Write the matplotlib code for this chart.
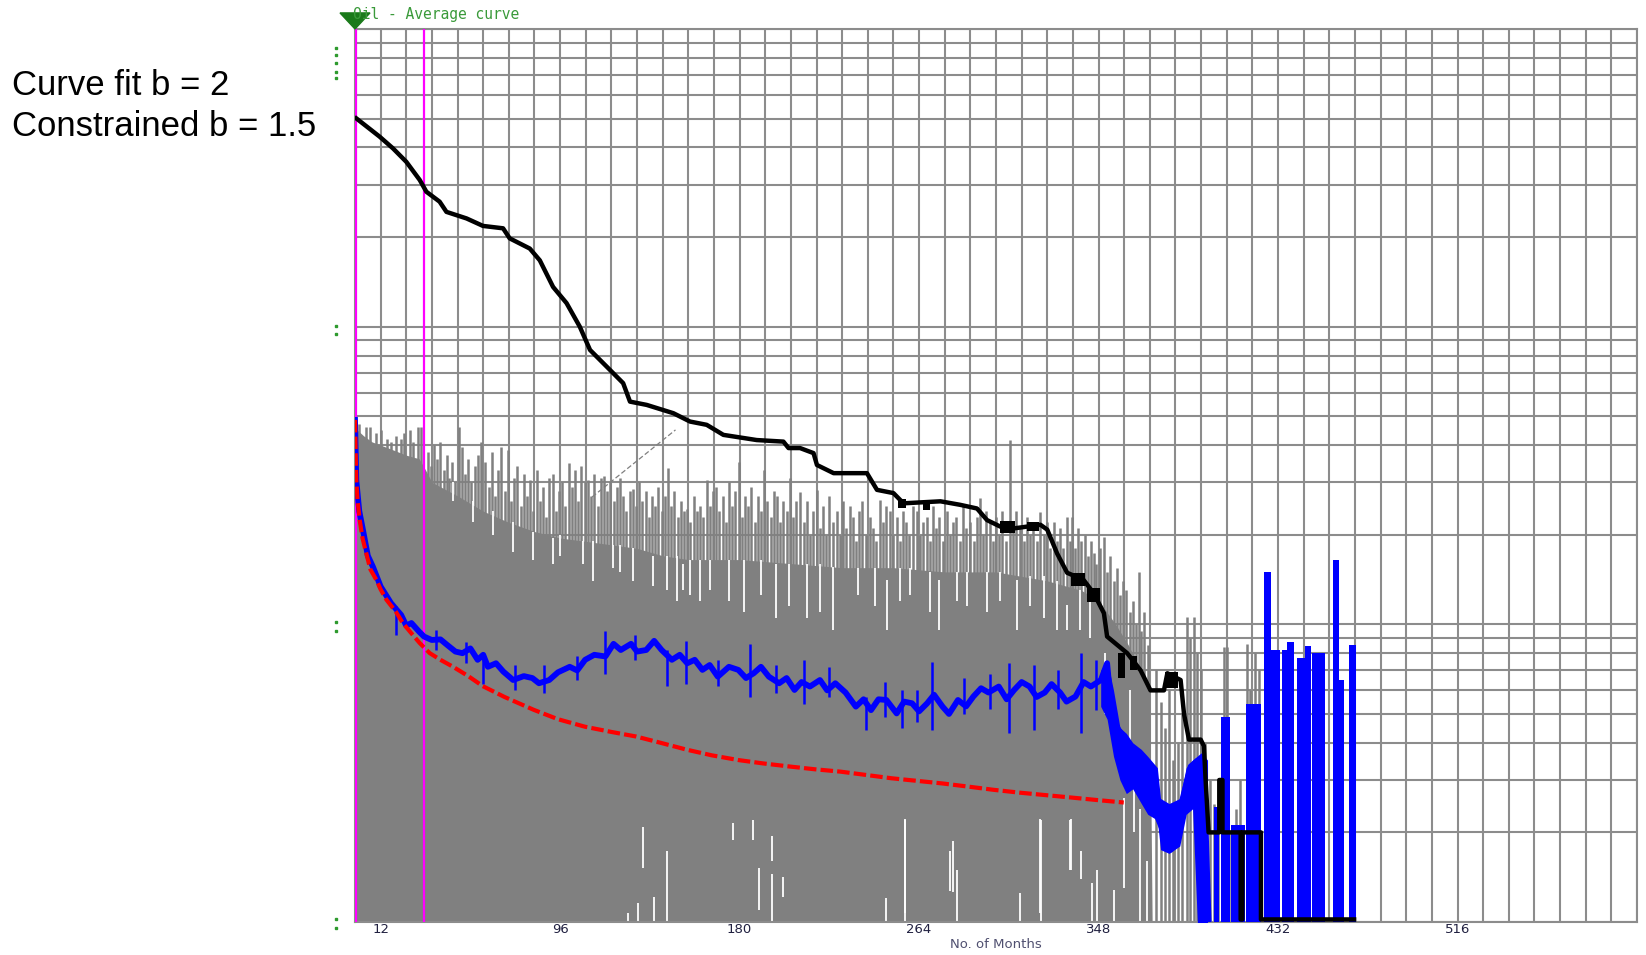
import matplotlib
matplotlib.use("Agg")
import matplotlib.pyplot as plt
import matplotlib.ticker as ticker
from matplotlib.patches import Polygon
from matplotlib.transforms import blended_transform_factory

# ---------------- data (x = months, y = rate, log) ----------------
# average curve (black)
black_months = [0.6, 11.5, 17.8, 24, 30.3, 33.4, 39.6, 42.8, 52.2, 59.9, 69.3, 72.4, 81.8, 86.5,
                92.7, 99, 105.2, 110, 117.8, 125.5, 128.7, 136.5, 149, 156.8, 164.6, 172.4, 188,
                200.5, 202.9, 208.3, 214.6, 216.2, 224, 239.6, 244.3, 252, 256.7, 274, 283.3,
                291.1, 295.8, 302, 308.3, 320.8, 324, 328.6, 333.3, 341, 345.8, 350.5, 352,
                361.4, 367.7, 372.3, 378.6, 380.2, 386.4, 388, 390.3, 395.8, 397.3, 398.1, 399.5,
                404.5, 404.5, 406, 406, 414.5, 414.5, 415.3, 415.3, 424, 424, 467.6]
black_vals = [501, 435, 397, 358, 311, 284, 263, 243, 231, 218, 214, 198, 183, 167,
              136, 120, 100, 83.5, 73.4, 64.6, 56.0, 54.6, 51.2, 48.0, 46.8, 43.3, 41.6,
              41.1, 39.1, 39.1, 37.6, 34.3, 32.2, 32.2, 28.3, 27.6, 25.5, 25.9, 25.2,
              24.5, 22.4, 21.3, 21.0, 21.6, 20.8, 17.3, 14.9, 14.1, 12.7, 10.9, 9.1,
              8.0, 7.0, 6.0, 6.0, 6.85, 6.5, 5.0, 4.1, 4.1, 3.9, 3.0, 2.0,
              2.0, 3.0, 3.0, 2.0, 2.0, 1.02, 1.02, 2.0, 2.0, 1.02, 1.02]

# noisy blocks on the average curve: left, right, low, high
blk_left = [254, 266, 302, 314.5, 335, 342.6, 357, 362.5, 379]
blk_right = [258, 269, 309, 320, 341.5, 348.5, 360.5, 366, 385]
blk_low = [24.6, 24.2, 20.2, 20.6, 13.4, 11.9, 6.6, 7.0, 6.1]
blk_high = [26.3, 25.9, 22.2, 22.0, 14.9, 13.2, 8.0, 7.8, 6.9]

# actual average rate (blue)
blue_months = [0, 0.6, 2, 3.7, 6, 8.4, 12, 16.8, 19, 21.6, 24, 26.4, 30, 32.3, 35.9, 40, 43.1,
               47, 50.3, 54, 57.4, 60, 62.2, 66, 69.4, 74, 79, 83, 86.1, 90.9, 95, 100.5,
               104, 107.7, 112, 117.2, 121, 124.4, 129.2, 132, 136.3, 140, 143.5, 148.3,
               152, 155.5, 159, 162.6, 166, 169.8, 175, 179.4, 183, 186.6, 190, 193.7, 198.5,
               202, 205.7, 209, 212.9, 217.6, 221, 224.8, 229.6, 234.4, 238, 241.5, 245,
               248.7, 253.5, 257, 260.7, 264, 267.8, 271, 275, 278, 282.2, 286, 289.4, 293,
               296.5, 301.3, 305, 308.5, 312, 315.7, 319, 322.8, 326, 330, 333, 337.2, 341,
               344.4, 349.1, 352, 354, 356, 358.3, 361, 363, 366.1, 369.3, 372.4, 375.5,
               378.6, 381.8, 384.9, 388, 391.1, 394.3, 395.8, 398.2, 399.7]
blue_vals = [48.6, 30.5, 24, 20.8, 17, 15.6, 13.4, 11.8, 11.3, 10.75, 9.9, 10.1, 9.45, 9.1, 8.86,
             8.9, 8.53, 8.1, 8.0, 8.3, 7.6, 7.9, 7.2, 7.4, 6.94, 6.5, 6.7, 6.6, 6.34, 6.5, 6.9, 7.2,
             7.0, 7.6, 7.9, 7.8, 8.6, 8.2, 8.6, 8.1, 8.2, 8.8, 8.2, 7.6,
             7.9, 7.4, 7.6, 7.03, 7.3, 6.67, 7.2, 7.03, 6.6, 6.85, 7.2, 6.67, 6.34,
             6.6, 6.02, 6.4, 6.18, 6.5, 6.0, 6.34, 5.9, 5.29, 5.6, 5.15, 5.6,
             5.57, 5.02, 5.5, 5.43, 5.1, 5.43, 5.8, 5.29, 5.0, 5.57, 5.3, 5.72, 6.1,
             5.9, 6.18, 5.6, 6.02, 6.4, 6.18, 5.7, 5.9, 6.3, 5.9, 5.5, 5.72, 6.4,
             6.18, 6.5, 7.4, 5.2, 4.6, 4.3, 3.9, 3.16, 3.69, 2.57, 3.33, 2.26,
             1.99, 1.75, 2.2, 2.71, 3.33, 3.48, 2.92, 1.99, 0.9]

# spread of the blue line where it breaks down (months, low, high)
band_months = [349, 352, 355, 358, 361, 364, 368, 371, 375.5, 377, 381, 386, 389, 392, 396, 399]
band_low = [5.3, 4.8, 3.6, 3.0, 2.7, 2.8, 2.5, 2.3, 2.2, 1.75, 1.7, 1.8, 2.3, 2.4, 0.5, 0.5]
band_high = [7.0, 7.6, 6.0, 4.5, 4.3, 4.0, 3.8, 3.6, 3.3, 2.6, 2.5, 2.6, 3.3, 3.5, 3.7, 3.5]

# short jumps of the blue line (months, low, high)
bjump_months = [19, 38, 52, 59.8, 75, 88.5, 104, 117, 131, 145.9, 155, 170, 185, 197, 210, 222,
                239, 248, 256, 263, 270, 285, 297, 306, 318, 329, 340, 347]
bjump_low = [9.2, 8.2, 7.4, 6.3, 6.0, 5.9, 6.5, 6.8, 7.6, 6.2, 6.3, 6.2, 5.7, 5.9, 5.4, 5.7,
             4.4, 4.9, 4.5, 4.7, 4.4, 5.0, 5.2, 4.3, 4.4, 5.2, 4.3, 5.15]
bjump_high = [11.5, 9.6, 8.7, 7.8, 7.3, 7.3, 7.8, 9.5, 9.2, 8.2, 8.8, 7.6, 8.6, 7.3, 7.6, 7.2,
              5.7, 6.4, 6.0, 6.0, 7.5, 6.6, 6.8, 7.4, 7.3, 7.0, 8.0, 7.6]

# blue tail, drawn as filled monthly columns: left, right, top
tail_left = [402, 405.1, 409.8, 416.9, 425.4, 428.6, 434.0, 436.4, 441.0,
             444.5, 448.1, 457.5, 460.6, 465.3]
tail_right = [404.4, 409.4, 416.5, 424.0, 428.6, 433.0, 436.0, 439.5, 444.5,
              447.6, 453.9, 460.6, 463.0, 468.4]
tail_top = [2.44, 4.9, 2.12, 5.4, 15.0, 8.2, 8.2, 8.75, 7.7,
            8.45, 8.0, 16.5, 6.5, 8.55]

# constrained hyperbolic fit (red)
red_months = [0, 0.3, 0.6, 1.2, 2.2, 3.5, 5.3, 7.2, 10, 12, 14.7, 19.2, 22.4, 26, 30.3, 35,
              40, 45.9, 53, 59.8, 70, 83.7, 95, 107.6, 120, 131.5, 143, 155.4, 167, 179.4,
              191, 203.3, 215, 227.2, 239, 251.1, 263, 275, 287, 298.9, 311, 322.8, 335,
              347, 359.8]
red_vals = [48.6, 38, 30.5, 26, 22.4, 19.5, 17.3, 15.3, 14.1, 13.1, 12.1, 11.0, 10.1, 9.4, 8.65,
            8.0, 7.6, 7.2, 6.7, 6.2, 5.7, 5.16, 4.8, 4.53, 4.35, 4.2, 4.0, 3.79, 3.63, 3.5,
            3.41, 3.33, 3.26, 3.2, 3.12, 3.04, 2.98, 2.92, 2.85, 2.78, 2.72, 2.67, 2.62,
            2.57, 2.52]

# cloud of individual wells (gray): solid part, spikes above it, white gaps in it
gray_months = [0, 1, 4, 8, 12, 18, 24, 30, 33, 36, 48, 60, 72, 84, 96, 108, 120, 132, 144,
               156, 168, 180, 204, 228, 252, 276, 300, 324, 340, 348, 356, 362, 368, 372, 373.5]
gray_top = [48.6, 45, 43, 41, 40, 38.5, 37, 36, 33, 30, 27, 24, 22, 20.5, 19.5, 19, 18.5, 18,
            17, 16.5, 16.5, 16.5, 16, 15.5, 15.5, 15, 15, 14, 13, 12, 10, 8.5, 7, 6, 0.5]

spike_months = [2, 5, 7, 10, 12.3, 15, 17, 19, 21.7, 23, 25.6, 27, 29.5, 31,
                34, 35.5, 37, 38.5, 40, 41.5, 43, 44, 45.5, 47, 48.5, 50, 51.5, 53, 54.5, 56,
                57.5, 59,
                61, 62.5, 64, 65.5, 67, 68.5, 70, 71.5, 73, 74.5, 76, 77.5, 79, 80.5, 82, 83.5,
                85, 86.5, 88, 89.5, 91, 92.5, 94, 95.5, 97, 98.5, 100,
                101.5, 103, 104.5, 106, 107.5, 109, 110.5, 112, 113.5, 115, 116.5, 118, 119.5,
                121, 122.5, 124, 125.5, 127, 128.5, 130, 131.5, 133, 134.5, 136, 137.5, 139,
                140.5, 142, 143.5, 145, 146.6, 148, 149.5, 151, 152.5, 154, 155.5, 157, 158.5,
                160, 161.5, 163, 164.6, 166, 167.5, 169,
                170.5, 172, 173.5, 175, 176.5, 178, 179.5, 181, 182.5, 184, 185.5, 187, 188.5,
                190, 191.5, 193, 194.5, 196, 197.5, 199, 200.5, 202, 203.5, 205, 206.5, 208.3,
                210, 211.5, 213, 214.5, 216.1, 217.5, 219, 220.5, 222, 223.5, 225.5, 227, 228.5,
                230, 231.7, 233, 234.5, 236, 237.5, 239, 241.1, 242.5, 244, 245.8, 247, 248.5,
                250.5, 252, 253.5, 255, 256.7, 258, 259.5, 261, 263, 264.5, 266, 267.7, 269,
                270.5, 272, 273.5, 275, 277, 278.5, 280, 281.5, 283, 284.5, 286, 288, 289.5,
                291, 292.7, 294, 295.5, 297, 298.5, 300,
                301.5, 303, 304.5, 306.7, 308, 309.5, 311.4, 313, 314.5, 316, 317.5, 319, 320.8,
                322.5, 324, 325.5, 327, 328.5, 330, 331.5, 333, 334.5, 335.6, 337, 338.5, 340,
                341.5, 343, 344.5, 345.8, 347, 348.5, 350.4, 352, 353.5, 355, 356.5, 358, 359.5,
                361, 362.5, 364, 365.5, 366.8, 368, 369.5, 371,
                375, 377, 379, 381, 383, 385, 387, 389.6, 391, 392.7, 394, 396, 398, 400,
                402, 404, 406.7, 408.3, 410, 412.2, 414, 417.6, 419, 421, 423]
spike_tops = [47, 46, 46, 44, 45, 42, 41, 43, 42, 44, 45, 41, 46, 46,
              38, 34, 40, 36, 41, 33, 37, 31, 35, 30, 46, 39.5, 32, 36, 30, 34,
              37, 41,
              35, 29, 38, 27, 33, 39.5, 28, 38.5, 26, 31, 34, 25, 32, 27, 30.5, 24,
              33, 26, 29, 23, 31, 32, 24, 28, 30, 25, 34.8,
              29, 33, 26, 34, 30, 30.5, 27, 32, 25, 31, 31.4, 28, 30,
              26, 29, 31, 27, 24, 28, 28.5, 25, 30, 26, 28, 23, 27,
              25, 29, 24, 27, 33.5, 25, 28, 23, 26, 24, 24.4, 22, 27,
              24, 24.9, 23, 30.5, 25, 28, 29,
              24, 27, 22, 30, 25, 28, 35, 23, 27, 25, 29, 22, 27,
              24, 33, 26, 23, 28, 27, 22, 26, 24, 31, 23, 26, 27.9,
              22, 26, 20, 24, 28.3, 21, 25, 20, 27, 22, 24, 20, 26,
              21, 25, 23, 19, 24, 26, 20, 23, 21, 19, 26.2, 22, 25,
              24, 20, 23, 19, 24, 22, 20, 25, 24, 20, 22, 23, 19,
              25, 21, 23, 19, 24, 20, 22, 23, 19, 25, 21, 22, 19,
              23, 26.5, 20, 24, 22, 19, 23,
              20, 24, 19, 41.6, 22, 24, 21, 19, 23, 20, 22, 19, 23.9,
              20, 22, 18, 22, 19, 21, 18, 23, 19, 23.0, 18, 21, 19,
              20, 17, 19, 17.3, 16, 18, 19.7, 15, 17, 14, 15.5, 12.5, 14,
              13, 11, 12, 10, 15, 9.5, 11, 8.5,
              7, 5.5, 4.5, 6, 3.5, 4, 5, 10.6, 9, 10.6, 8, 7, 4, 3,
              2.5, 2.2, 8.4, 8.4, 2, 2.4, 3, 8.6, 6, 8, 7]

gap_months = [45.9, 55.3, 64.6, 74, 83.4, 92.7, 95.9, 106.8, 111.5, 120.9, 124, 130.2, 139.6,
              145.9, 150.5, 153.7, 156.8, 161.5, 166.1, 175, 182, 190, 197, 203,
              211.4, 217.7, 223.9, 235.6, 243.4, 248.9, 255.2, 259.8, 269.2, 273.1, 281.7,
              286.4, 295.8, 302.0, 309.8, 316.1, 322.3, 328.6, 333.3, 339.5, 344.2,
              128, 132.6, 135, 140, 146, 177, 186.5, 189, 195, 195.3, 200.3, 248.5, 257.6,
              278.4, 281.8, 311, 320.9, 334.4, 339.6, 344.8, 355.2, 360, 364.5, 370.9,
              257.5, 280, 320.4, 335.3, 347.5, 367.2, 351, 362.5]
gap_low = [26, 22, 20, 17.5, 16.5, 16, 17, 16, 14, 15.5, 15, 14, 13.5,
           13, 12, 13, 12.5, 12, 13, 12, 11, 12.5, 10.5, 11.5,
           10.5, 11.0, 9.6, 12.5, 11.5, 9.6, 12.0, 12.5, 11.0, 9.6, 12.0,
           11.5, 11.0, 12.0, 9.6, 11.5, 10.5, 9.6, 9.6, 9.6, 9.0,
           1.0, 1.0, 1.52, 1.0, 1.0, 1.88, 1.88, 1.1, 1.0, 1.6, 1.21, 1.0, 1.0,
           1.27, 1.0, 1.0, 1.0, 1.5, 1.4, 1.0, 1.0, 1.3, 2.0, 1.0,
           1.07, 1.26, 1.07, 1.5, 1.0, 1.0, 5.0, 3.0]
gap_high = [30, 26, 24, 22, 20.5, 19.5, 20, 19, 19, 18.5, 18.5, 18, 17,
            17, 17, 16, 16.5, 16.5, 16.5, 16.5, 16.5, 16.5, 16, 16,
            16, 16, 15.6, 15.5, 15.5, 14.1, 15.5, 15.5, 15, 14.1, 15,
            15, 15, 15, 14.1, 14.5, 14.5, 14, 11.6, 13, 12,
            1.07, 1.16, 2.09, 1.21, 1.73, 2.15, 2.2, 1.52, 1.45, 1.95, 1.42, 1.2, 2.2,
            1.73, 1.5, 1.25, 2.2, 2.2, 1.73, 1.35, 1.28, 2.6, 3.5, 1.6,
            2.22, 1.87, 2.22, 2.22, 1.5, 2.4, 8.0, 6.0]

# diagonal trend mark (thin gray)
trend_months = [111, 150]
trend_vals = [26.8, 45]

# vertical markers (magenta) and x tick labels
marker_months = [0.4, 32.2]
xtick_months = [12, 96, 180, 264, 348, 432, 516]

# green decade marks at the left of the frame (y positions)
green_dots = [863, 818, 769, 717, 684, 100.5, 94.5, 10.2, 9.5, 1.02, 0.955]

GRAY = "#808080"
GRID = "#8c8c8c"
BLUE = "#0000ff"

fig = plt.figure(figsize=(16.46, 9.55), dpi=100)
ax = fig.add_axes([355 / 1646, 1 - 922 / 955, 1282 / 1646, 893 / 955])
ax.set_yscale("log")
ax.set_xlim(0, 600)
ax.set_ylim(1, 1000)

# grid: one vertical every 12 months, log decades with minor lines
ax.xaxis.set_major_locator(ticker.FixedLocator(xtick_months))
ax.xaxis.set_minor_locator(ticker.MultipleLocator(12))
ax.yaxis.set_major_locator(ticker.LogLocator(base=10))
ax.yaxis.set_minor_locator(ticker.LogLocator(base=10, subs=range(2, 10)))
ax.yaxis.set_major_formatter(ticker.NullFormatter())
ax.yaxis.set_minor_formatter(ticker.NullFormatter())
ax.set_axisbelow(True)
ax.grid(which="both", color=GRID, lw=1.5)
ax.tick_params(which="both", length=0)
ax.tick_params(axis="x", labelsize=9.5, labelcolor="#202040", pad=1)
for s in ax.spines.values():
    s.set_color(GRID)
    s.set_linewidth(1.5)

# gray cloud
ax.fill_between(gray_months, 0.5, gray_top, color=GRAY, lw=0, zorder=1)
ax.vlines(spike_months, 0.5, spike_tops, color=GRAY, lw=1.8, zorder=1.2)
ax.vlines(gap_months, gap_low, gap_high, color="white", lw=1.3, zorder=1.4)
ax.plot(trend_months, trend_vals, color=GRAY, lw=0.9, ls=(0, (4, 2)), zorder=1.5)

# magenta markers
for m in marker_months:
    ax.axvline(m, color="#ff00ff", lw=1.6, zorder=3)

# blue actual rate
ax.fill_between(band_months, band_low, band_high, color=BLUE, lw=0, zorder=4)
ax.vlines(bjump_months, bjump_low, bjump_high, color=BLUE, lw=1.8, zorder=4)
ax.plot(blue_months, blue_vals, color=BLUE, lw=4.2, zorder=4)
ax.bar(tail_left, [t - 0.5 for t in tail_top], width=[r - l for l, r in zip(tail_left, tail_right)],
       bottom=0.5, align="edge", color=BLUE, lw=0, zorder=4)

# red constrained fit
ax.plot(red_months, red_vals, color="#ff0000", lw=3, ls=(0, (3, 1)), zorder=5)

# black average curve
ax.plot(black_months, black_vals, color="black", lw=3.2, zorder=6)
ax.bar(blk_left, [h - l for l, h in zip(blk_low, blk_high)],
       width=[r - l for l, r in zip(blk_left, blk_right)],
       bottom=blk_low, align="edge", color="black", lw=0, zorder=6)

ax.set_xlabel("No. of Months", fontsize=9.5, color="#505070", labelpad=1)

# green decade dots on the left
trans = blended_transform_factory(ax.transAxes, ax.transData)
ax.plot([-0.0148] * len(green_dots), green_dots, "s", ms=2.0, color="#2e9a2e",
        transform=trans, clip_on=False, lw=0)

# green triangle and title at the top
tri = Polygon([(-0.0117, 1.018), (0.0117, 1.018), (0, 1.0)], closed=True,
              transform=ax.transAxes, color="#1a7a1a", clip_on=False, zorder=10)
ax.add_patch(tri)
fig.text(353 / 1646, 1 - 15 / 955, "Oil - Average curve", fontsize=10.5, color="#3a9a3a",
         family="DejaVu Sans Mono", va="center", ha="left")

# annotations
fig.text(12 / 1646, 1 - 95 / 955, "Curve fit b = 2", fontsize=25, family="Liberation Sans",
         va="baseline", ha="left")
fig.text(12 / 1646, 1 - 136 / 955, "Constrained b = 1.5", fontsize=25, family="Liberation Sans",
         va="baseline", ha="left")

fig.savefig("out.png", dpi=100)
